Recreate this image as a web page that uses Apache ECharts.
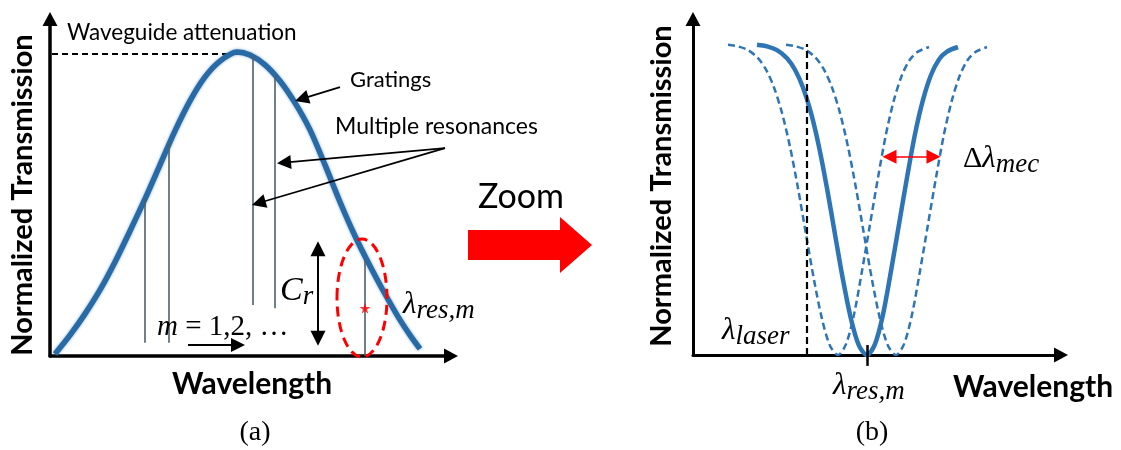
<!DOCTYPE html>
<html><head><meta charset="utf-8">
<script src="https://cdn.jsdelivr.net/npm/echarts@6/dist/echarts.min.js"></script>
<style>html,body{margin:0;padding:0;background:#fff}#c{width:1121px;height:450px}</style>
</head><body><div id="c"></div>
<script>
// ---------- Panel (a): broadband transmission (wavelength in a.u., normalized transmission) ----------
const curveAX = [5, 20, 35, 50, 65, 80, 95, 110, 125, 140, 155, 170, 187, 200, 215, 230, 245, 260, 275, 290, 305, 320, 335, 350, 360, 370];
const curveAY = [0.006, 0.062, 0.125, 0.196, 0.279, 0.371, 0.466, 0.567, 0.668, 0.757, 0.828, 0.875, 0.902, 0.893, 0.864, 0.816, 0.751, 0.671, 0.567, 0.457, 0.356, 0.267, 0.184, 0.107, 0.062, 0.021];
const resonanceX = [95, 119, 203, 225, 315];
const resonanceTop = [0.466, 0.635, 0.892, 0.83, 0.285];
const resonanceBottom = [0.039, 0.039, 0.151, 0.142, 0];
const attenuationLine = [[2, 0.896], [200, 0.896]];
const markedResonance = [[315, 0.142]];
// annotation arrows of panel (a), in data units
const gratingsArrow = [[290, 0.798], [251.7, 0.763]];
const multiArrows = [[[395, 0.617], [234, 0.574]], [[395, 0.617], [208.7, 0.454]]];
const contrastArrow = [[268, 0.318], [268, 0.053]];
const orderArrow = [[138, 0.033], [188, 0.033]];

// ---------- Panel (b): zoom on one resonance ----------
const dipOffset = [-110, -100, -90, -80, -72, -64, -56, -48, -40, -32, -24, -16, -8, 0, 8, 16, 24, 32, 40, 48, 56, 64, 72, 80, 91];
const dipLevel  = [0.997, 0.992, 0.98, 0.954, 0.917, 0.86, 0.778, 0.669, 0.536, 0.388, 0.242, 0.116, 0.03, 0, 0.035, 0.13, 0.27, 0.42, 0.57, 0.71, 0.82, 0.9, 0.95, 0.975, 0.99];
const dipCenterSolid = 174;
const dipCentersShifted = [145, 203];
const laserLine = [[114, 0], [114, 1.0]];
const resTick = [[174, -0.035], [174, 0.032]];
const mecArrow = [[196.5, 0.637], [240.5, 0.637]];

const BLUE = '#2e75b6';
const dip = c => dipOffset.map((d, i) => [c + d, dipLevel[i]]);

function axisPair(gi, xmax, ymax, w) {
  const line = {show: true, onZero: false, lineStyle: {color: '#000', width: w}, symbol: ['none', 'triangle'], symbolSize: [15, 14]};
  return {
    x: {type: 'value', gridIndex: gi, min: 0, max: xmax, axisLine: line, axisTick: {show: false}, axisLabel: {show: false}, splitLine: {show: false}},
    y: {type: 'value', gridIndex: gi, min: 0, max: ymax, axisLine: line, axisTick: {show: false}, axisLabel: {show: false}, splitLine: {show: false}}
  };
}
const A = axisPair(0, 401, 1, 3.5), B = axisPair(1, 368, 1.08, 3);

function arrowLines(gi, list, sym, color, width, size) {
  return {type: 'lines', coordinateSystem: 'cartesian2d', xAxisIndex: gi, yAxisIndex: gi, clip: false,
    symbol: sym, symbolSize: size, silent: true, z: 6,
    lineStyle: {color: color, width: width, opacity: 1},
    data: list.map(c => ({coords: c}))};
}

const chart = echarts.init(document.getElementById('c'), null, {renderer: 'canvas'});
const serif = '"Liberation Serif", "DejaVu Serif", serif';
const sans = 'Lato, "Open Sans", sans-serif';
function mathText(x, y, parts) { // parts: [[text, style]]
  return {type: 'text', x: x, y: y, z: 20, style: {
    text: parts.map((p, i) => '{t' + i + '|' + p[0] + '}').join(''),
    rich: Object.fromEntries(parts.map((p, i) => ['t' + i, Object.assign({fontFamily: serif, fill: '#000'}, p[1])])),
    textAlign: 'left', textVerticalAlign: 'middle'}};
}
const MAIN = {fontSize: 31, fontStyle: 'italic', lineHeight: 34};
const SUB = {fontSize: 27, fontStyle: 'italic', lineHeight: 24, padding: [12, 0, 0, 0]};
const label = (x, y, text, font, rot, align) => ({type: 'text', x: x, y: y, rotation: rot || 0, z: 20,
  style: {text: text, font: font, fill: '#000', textAlign: align || 'center', textVerticalAlign: 'middle'}});

chart.setOption({
  animation: false,
  grid: [{left: 50, top: 19, width: 401, height: 337}, {left: 693, top: 19, width: 368, height: 336}],
  xAxis: [A.x, B.x],
  yAxis: [A.y, B.y],
  series: [
    {type: 'line', xAxisIndex: 0, yAxisIndex: 0, data: attenuationLine, symbol: 'none',
     lineStyle: {color: '#000', width: 2, type: [6, 4]}, z: 2},
    arrowLines(0, resonanceX.map((x, i) => [[x, resonanceTop[i]], [x, resonanceBottom[i]]]), 'none', '#4d6168', 1.6, 1),
    {type: 'line', xAxisIndex: 0, yAxisIndex: 0, data: curveAX.map((x, i) => [x, curveAY[i]]), smooth: 0.3,
     symbol: 'none', lineStyle: {color: '#276aa6', width: 5.5, shadowBlur: 3, shadowColor: 'rgba(39,106,166,0.6)'}, z: 3},
    {type: 'scatter', xAxisIndex: 0, yAxisIndex: 0, data: markedResonance, z: 7,
     symbol: 'path://M50,0 L61,35 L98,35 L68,57 L79,91 L50,70 L21,91 L32,57 L2,35 L39,35 Z', symbolSize: 11,
     itemStyle: {color: '#ff0000'}},
    arrowLines(0, [gratingsArrow], ['none', 'triangle'], '#000', 1.8, 14),
    arrowLines(0, multiArrows, ['none', 'triangle'], '#000', 1.8, 14),
    arrowLines(0, [contrastArrow], ['triangle', 'triangle'], '#000', 2, 15),
    arrowLines(0, [orderArrow], ['none', 'triangle'], '#000', 1.8, 14),

    {type: 'line', xAxisIndex: 1, yAxisIndex: 1, data: dip(dipCentersShifted[0]), smooth: 0.3, symbol: 'none',
     lineStyle: {color: BLUE, width: 2.5, type: [7, 4]}, z: 3},
    {type: 'line', xAxisIndex: 1, yAxisIndex: 1, data: dip(dipCentersShifted[1]), smooth: 0.3, symbol: 'none',
     lineStyle: {color: BLUE, width: 2.5, type: [7, 4]}, z: 3},
    {type: 'line', xAxisIndex: 1, yAxisIndex: 1, data: dip(dipCenterSolid), smooth: 0.3, symbol: 'none',
     lineStyle: {color: BLUE, width: 4.5}, z: 4},
    {type: 'line', xAxisIndex: 1, yAxisIndex: 1, data: laserLine, symbol: 'none',
     lineStyle: {color: '#000', width: 2.2, type: [7, 4]}, z: 5},
    arrowLines(1, [resTick], 'none', '#000', 2.5, 1),
    arrowLines(1, [mecArrow], ['triangle', 'triangle'], '#ff0000', 1.5, 14)
  ],
  graphic: [
    label(23, 195, 'Normalized Transmission', 'bold 29px ' + sans, Math.PI / 2),
    label(662, 186, 'Normalized Transmission', 'bold 29px ' + sans, Math.PI / 2),
    label(252, 384, 'Wavelength', 'bold 30px ' + sans),
    label(1033, 387, 'Wavelength', 'bold 30px ' + sans),
    label(67, 33, 'Waveguide attenuation', '22.5px ' + sans, 0, 'left'),
    label(350, 80, 'Gratings', '22px ' + sans, 0, 'left'),
    label(335, 127, 'Multiple resonances', '23px ' + sans, 0, 'left'),
    label(521, 197, 'Zoom', '34px ' + sans),
    {type: 'polygon', z: 20, shape: {points: [[468, 230], [560, 230], [560, 217], [592, 245], [560, 273], [560, 260], [468, 260]]},
     style: {fill: '#ff0000'}},
    {type: 'ellipse', z: 21, shape: {cx: 362, cy: 298, rx: 25, ry: 59},
     style: {fill: 'none', stroke: '#ff0000', lineWidth: 3, lineDash: [10, 6]}},
    mathText(280, 291, [['C', {fontSize: 34, fontStyle: 'italic', lineHeight: 36}], ['r', Object.assign({}, SUB, {fontSize: 27})]]),
    mathText(157, 327, [['m', {fontSize: 29, fontStyle: 'italic', lineHeight: 32}], [' = 1,2, …', {fontSize: 29, lineHeight: 32}]]),
    mathText(403, 305, [['λ', MAIN], ['res,m', SUB]]),
    mathText(722, 331, [['λ', MAIN], ['laser', SUB]]),
    mathText(963, 159, [['Δ', {fontSize: 30, lineHeight: 34}], ['λ', MAIN], ['mec', SUB]]),
    mathText(833, 386, [['λ', MAIN], ['res,m', SUB]]),
    label(255, 433, '(a)', '28px ' + serif),
    label(872, 433, '(b)', '28px ' + serif)
  ]
});
</script></body></html>
